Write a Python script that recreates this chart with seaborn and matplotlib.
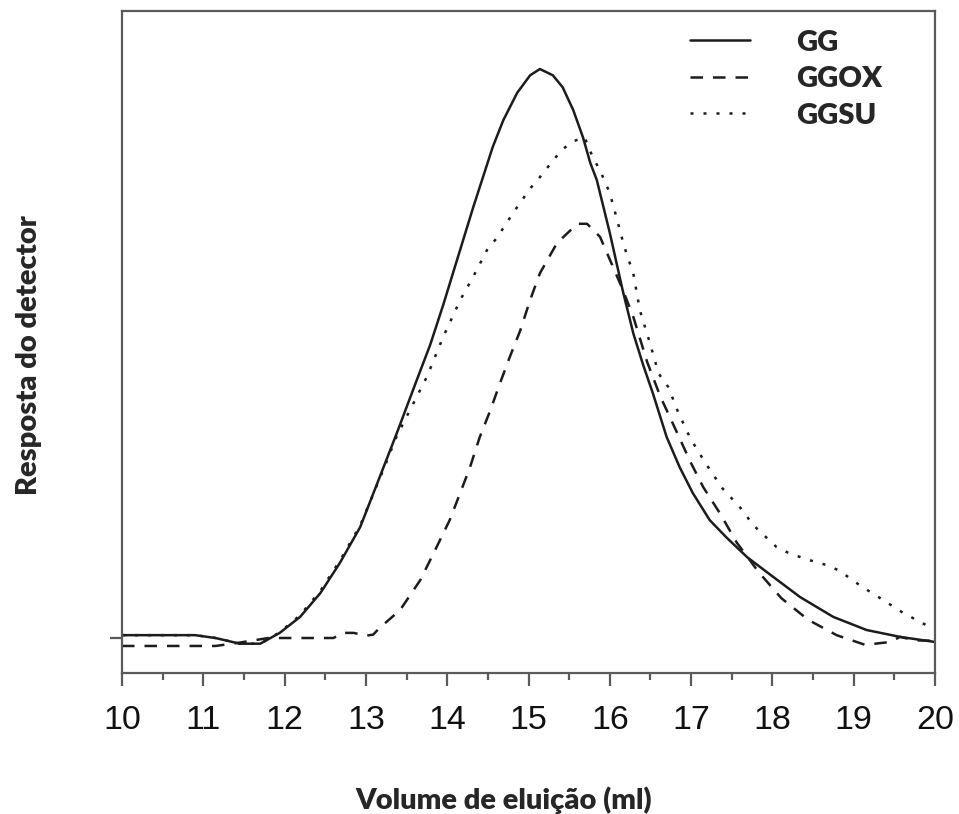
import matplotlib
matplotlib.use("Agg")
import matplotlib.pyplot as plt
from matplotlib.lines import Line2D
import seaborn as sns
import pandas as pd

# ---- data ----
gg_x = [10.0, 10.9, 11.15, 11.45, 11.7, 11.94, 12.19, 12.44, 12.68, 12.93, 13.17, 13.38,
        13.63, 13.79, 13.95, 14.12, 14.32, 14.44, 14.56, 14.69, 14.86, 15.02, 15.14, 15.3,
        15.42, 15.55, 15.67, 15.76, 15.84, 16.0, 16.16, 16.29, 16.41, 16.53, 16.7, 16.86,
        17.02, 17.23, 17.44, 17.69, 17.93, 18.34, 18.75, 19.16, 19.57, 20.0]
gg_y = [0.5, 0.5, 0.0, -1.0, -1.0, 0.9, 3.7, 7.9, 13.2, 19.5, 28.3, 36.0,
        45.5, 51.5, 58.5, 66.4, 75.7, 81.0, 86.3, 91.0, 95.8, 98.9, 100.0, 98.9,
        96.8, 92.8, 88.0, 83.5, 80.5, 71.2, 61.0, 53.5, 48.0, 43.0, 35.3, 30.0,
        25.5, 20.7, 17.6, 14.2, 11.6, 7.2, 3.7, 1.4, 0.2, -0.7]

ox_x = [10.0, 11.15, 11.45, 11.8, 12.6, 12.72, 12.85, 13.0, 13.09, 13.17, 13.42, 13.67,
        13.87, 14.03, 14.16, 14.28, 14.4, 14.53, 14.65, 14.77, 14.9, 15.02, 15.14, 15.35,
        15.6, 15.72, 15.88, 16.04, 16.16, 16.29, 16.46, 16.62, 16.83, 16.99, 17.15, 17.36,
        17.56, 17.83, 18.11, 18.44, 18.79, 19.14, 19.45, 19.57, 19.75, 20.0]
ox_y = [-1.4, -1.4, -0.8, 0.0, 0.0, 0.9, 0.9, 0.4, 0.6, 1.8, 4.9, 10.2,
        16.0, 20.7, 25.5, 30.0, 35.3, 40.0, 44.8, 49.4, 54.1, 59.4, 64.1, 69.4,
        72.8, 72.8, 70.5, 65.2, 61.2, 56.4, 48.5, 42.5, 36.0, 31.0, 26.5, 21.8,
        16.8, 11.6, 7.0, 3.2, 0.5, -1.2, -0.7, 0.2, -0.4, -0.5]

su_x = [10.0, 10.9, 11.15, 11.45, 11.7, 11.94, 12.19, 12.44, 12.68, 12.93, 13.17, 13.38,
        13.54, 13.75, 13.95, 14.16, 14.32, 14.49, 14.61, 14.81, 15.02, 15.14, 15.29, 15.41,
        15.55, 15.69, 15.79, 15.88, 16.0, 16.09, 16.18, 16.29, 16.37, 16.49, 16.6, 16.72,
        16.84, 16.99, 17.17, 17.38, 17.63, 17.76, 18.05, 18.22, 18.5, 18.67, 18.83, 19.0,
        19.16, 19.36, 19.61, 19.9, 20.0]
su_y = [0.5, 0.5, 0.0, -1.0, -1.0, 1.0, 4.0, 8.3, 13.6, 19.8, 28.0, 35.5,
        40.0, 45.9, 52.9, 59.4, 63.5, 68.2, 70.3, 74.7, 79.0, 81.0, 83.7, 85.8,
        87.3, 88.0, 84.5, 82.2, 78.2, 73.5, 68.7, 64.0, 57.6, 52.0, 46.5, 44.1,
        39.7, 35.1, 30.9, 26.4, 22.5, 19.9, 16.0, 14.8, 13.5, 12.8, 11.8, 10.0,
        8.5, 6.7, 4.4, 2.2, 1.8]

series_names = ["GG", "GGOX", "GGSU"]
x_ticks = [10, 11, 12, 13, 14, 15, 16, 17, 18, 19, 20]
x_label = "Volume de eluição (ml)"
y_label = "Resposta do detector"

# ---- long-form table ----
frames = []
for name, xs, ys in zip(series_names, [gg_x, ox_x, su_x], [gg_y, ox_y, su_y]):
    frames.append(pd.DataFrame({"x": xs, "y": ys, "series": name}))
df = pd.concat(frames, ignore_index=True)

sns.set_style("white")
plt.rcParams["font.family"] = ["Liberation Sans", "DejaVu Sans"]

fig = plt.figure(figsize=(9.59, 8.14), dpi=100)
ax = fig.add_axes([122 / 959, 1 - 673 / 814, (935 - 122) / 959, (673 - 11) / 814])

line_color = "#1c1c1c"
sns.lineplot(data=df, x="x", y="y", style="series", style_order=series_names,
             dashes={"GG": "", "GGOX": (5, 4), "GGSU": (1.2, 4)},
             color=line_color, linewidth=1.8, estimator=None, sort=False,
             legend=False, ax=ax)

ax.set_xlim(10, 20)
ax.set_ylim(-6.15, 110.2)
ax.set_xticks(x_ticks)
ax.set_xticklabels([str(t) for t in x_ticks])
ax.set_xticks([t + 0.5 for t in x_ticks[:-1]], minor=True)
ax.set_yticks([0])
ax.set_yticklabels([])

spine_color = "#5a5a5a"
for s in ax.spines.values():
    s.set_visible(True)
    s.set_color(spine_color)
    s.set_linewidth(1.6)

ax.tick_params(axis="x", which="major", direction="out", length=9, width=1.6,
               color=spine_color, labelsize=24.5, pad=14, bottom=True,
               labelcolor="#111111")
ax.tick_params(axis="x", which="minor", direction="out", length=5, width=1.6,
               color=spine_color, bottom=True)
ax.tick_params(axis="y", which="major", direction="out", length=9, width=1.6,
               color=spine_color, left=True)

label_font = dict(family=["Lato", "DejaVu Sans"], weight="heavy", size=21)
ax.set_xlabel(x_label, fontdict=label_font)
ax.xaxis.set_label_coords(0.47, -0.172)
ax.set_ylabel(y_label, fontdict=label_font)
ax.yaxis.set_label_coords(-0.098, 0.48)

# legend
handles = [
    Line2D([], [], color=line_color, linewidth=1.8, linestyle="-"),
    Line2D([], [], color=line_color, linewidth=1.8, linestyle=(0, (5, 4))),
    Line2D([], [], color=line_color, linewidth=1.8, linestyle=(0, (1.2, 4))),
]
leg = ax.legend(handles, series_names, loc="upper left",
                bbox_to_anchor=((690 - 122) / 813, 0.972),
                frameon=False, borderpad=0, borderaxespad=0,
                handlelength=2.05, handletextpad=1.6, labelspacing=0.36,
                prop=dict(family=["Lato", "DejaVu Sans"], weight="heavy", size=21))

fig.savefig("out.png", dpi=100, facecolor="white")
